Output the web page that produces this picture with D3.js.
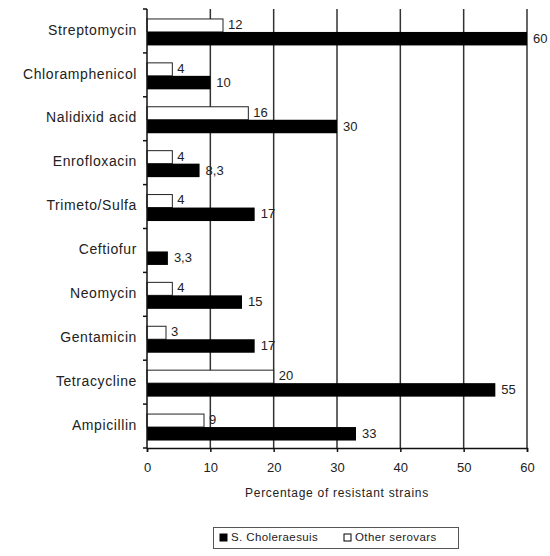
<!DOCTYPE html>
<html><head><meta charset="utf-8">
<script src="https://cdn.jsdelivr.net/npm/d3@7/dist/d3.min.js"></script>
<style>body{margin:0;background:#fff}svg{display:block}text{font-family:"Liberation Sans",Arial,sans-serif;fill:#222}</style>
</head><body><div id="chart"></div>
<script>
const categories = ["Streptomycin","Chloramphenicol","Nalidixid acid","Enrofloxacin","Trimeto/Sulfa","Ceftiofur","Neomycin","Gentamicin","Tetracycline","Ampicillin"];
const choleraesuis = [60,10,30,8.3,17,3.3,15,17,55,33];
const otherSerovars = [12,4,16,4,4,0,4,3,20,9];
const xTicks = [0,10,20,30,40,50,60];
const seriesNames = ["S. Choleraesuis","Other serovars"];

const W=550,H=556;
const svg=d3.select("#chart").append("svg").attr("width",W).attr("height",H);
const x=d3.scaleLinear().domain([0,60]).range([147,527]);
const y=d3.scaleBand().domain(categories).range([9,448]);
const sub=d3.scaleBand().domain(["other","chol"]).range([1,y.bandwidth()+1]).paddingOuter(0.69);
const fmt=v=>String(v).replace(".",",");

// gridlines
svg.append("g").selectAll("line").data(xTicks.slice(1)).join("line")
  .attr("x1",d=>x(d)).attr("x2",d=>x(d)).attr("y1",9).attr("y2",448)
  .attr("stroke","#333").attr("stroke-width",1.5);

const rows=categories.map((c,i)=>({c,chol:choleraesuis[i],other:otherSerovars[i]}));
const g=svg.append("g");
g.selectAll("rect.o").data(rows.filter(d=>d.other>0)).join("rect").attr("class","o")
  .attr("x",x(0)).attr("y",d=>y(d.c)+sub("other")).attr("width",d=>x(d.other)-x(0))
  .attr("height",sub.bandwidth()).attr("fill","#fff").attr("stroke","#222").attr("stroke-width",1);
g.selectAll("rect.c").data(rows).join("rect").attr("class","c")
  .attr("x",x(0)).attr("y",d=>y(d.c)+sub("chol")).attr("width",d=>x(d.chol)-x(0))
  .attr("height",sub.bandwidth()+0.5).attr("fill","#000");
// labels
g.selectAll("text.o").data(rows.filter(d=>d.other>0)).join("text").attr("class","o")
  .attr("x",d=>x(d.other)+5).attr("y",d=>y(d.c)+sub("other")+sub.bandwidth()/2)
  .attr("dominant-baseline","middle").attr("font-size",13).text(d=>fmt(d.other));
g.selectAll("text.c").data(rows).join("text").attr("class","c")
  .attr("x",d=>x(d.chol)+6).attr("y",d=>y(d.c)+sub("chol")+sub.bandwidth()/2+1)
  .attr("dominant-baseline","middle").attr("font-size",13).text(d=>fmt(d.chol));

// y axis
const ya=svg.append("g");
ya.append("line").attr("x1",x(0)).attr("x2",x(0)).attr("y1",9).attr("y2",448).attr("stroke","#111").attr("stroke-width",1.5);
ya.selectAll("line.t").data(d3.range(categories.length+1)).join("line").attr("class","t")
  .attr("x1",x(0)-4).attr("x2",x(0)).attr("y1",i=>9+i*y.step()).attr("y2",i=>9+i*y.step()).attr("stroke","#111").attr("stroke-width",1.5);
ya.selectAll("text").data(categories).join("text")
  .attr("x",137).attr("y",d=>y(d)+y.bandwidth()/2).attr("text-anchor","end")
  .attr("dominant-baseline","middle").attr("font-size",14).attr("letter-spacing",0.6).text(d=>d);

// x axis
const xa=svg.append("g").attr("transform","translate(0,448)")
  .call(d3.axisBottom(x).tickValues(xTicks).tickSize(4).tickFormat(d3.format("d")));
xa.select(".domain").attr("stroke","#111").attr("stroke-width",1.5);
xa.selectAll(".tick line").attr("stroke","#111").attr("stroke-width",1.5);
xa.selectAll("text").attr("font-size",13).attr("dy","1.3em").style("font-family","Liberation Sans, Arial, sans-serif").attr("fill","#222");
svg.append("text").attr("x",337).attr("y",497).attr("text-anchor","middle").attr("font-size",12).attr("letter-spacing",0.7)
  .text("Percentage of resistant strains");

// legend
const lg=svg.append("g");
lg.append("rect").attr("x",213.5).attr("y",527.5).attr("width",245).attr("height",21).attr("fill","#fff").attr("stroke","#555");
const items=[{n:seriesNames[0],f:"#000",x:220},{n:seriesNames[1],f:"#fff",x:344}];
items.forEach(it=>{
  lg.append("rect").attr("x",it.x).attr("y",534).attr("width",7).attr("height",7).attr("fill",it.f).attr("stroke","#000");
  lg.append("text").attr("x",it.x+11).attr("y",538).attr("dominant-baseline","middle").attr("font-size",11.5).attr("letter-spacing",0.4).text(it.n);
});
</script></body></html>
